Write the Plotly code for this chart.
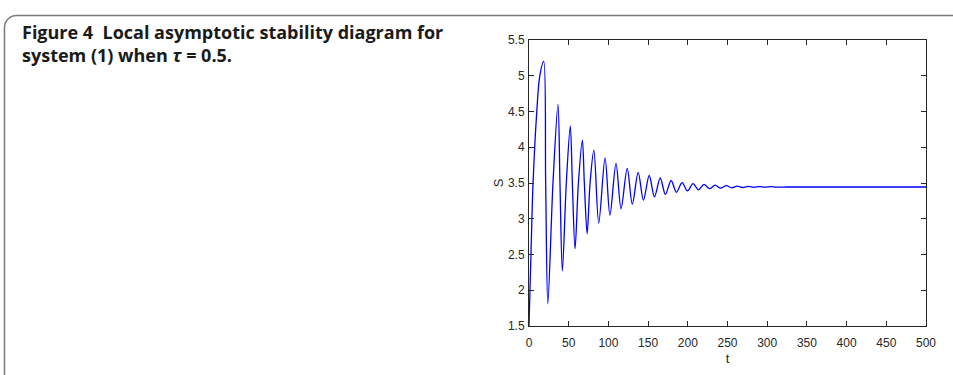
import plotly.graph_objects as go

# ---- data ----
t_values = [0, 2.5, 5.1, 9.7, 13.5, 18.5, 21, 23.7, 30.2, 36.5, 39, 42, 47, 52, 54.6, 58,
            62.2, 67.2, 69.7, 73.2, 76.9, 81.7, 87.8, 95.8, 101.9, 109.6, 115.9, 123.7,
            130.1, 137.5, 144.1, 151.4, 158, 165.3, 171.8, 179, 185.7, 192.8, 199.5, 206.6,
            213.3, 220.4, 227.4, 234.4, 241.3, 248.4, 255.5, 262.3, 269.3, 276.3, 283.3,
            290.3, 297.3, 304.3, 312, 325, 400, 500]
s_values = [1.5, 2.52, 3.5, 4.48, 4.99, 5.20, 3.5, 1.81, 3.5, 4.60, 3.5, 2.27, 3.5, 4.30, 3.5, 2.58,
            3.5, 4.10, 3.5, 2.79, 3.5, 3.96, 2.94, 3.85, 3.05, 3.775, 3.14, 3.705,
            3.205, 3.65, 3.26, 3.605, 3.305, 3.57, 3.34, 3.535, 3.37, 3.505, 3.39, 3.49,
            3.405, 3.48, 3.42, 3.47, 3.428, 3.462, 3.433, 3.457, 3.437, 3.453, 3.44,
            3.45, 3.441, 3.448, 3.443, 3.444, 3.444, 3.444]
x_ticks = [0, 50, 100, 150, 200, 250, 300, 350, 400, 450, 500]
y_ticks = [1.5, 2, 2.5, 3, 3.5, 4, 4.5, 5, 5.5]
y_tick_labels = ["1.5", "2", "2.5", "3", "3.5", "4", "4.5", "5", "5.5"]
caption = "Figure 4  Local asymptotic stability diagram for<br>system (1) when <i>τ</i> = 0.5."

W, H = 953, 375
L, R, T, B = 529, 926, 40, 326


def px(x):
    return (x - L) / (R - L)


def py(y):
    return (B - y) / (B - T)


fig = go.Figure()
fig.add_trace(go.Scatter(x=t_values, y=s_values, mode="lines",
                         line=dict(color="#0000ff", width=1.3, shape="spline", smoothing=0.9),
                         hoverinfo="skip", showlegend=False))

tick_font = dict(family="Liberation Sans, Arial", size=12, color="#262626")
axis_common = dict(showgrid=False, zeroline=False, showline=True, linecolor="#262626",
                   linewidth=1, mirror="ticks", ticks="inside", ticklen=5,
                   tickcolor="#262626", tickfont=tick_font)
fig.update_xaxes(range=[0, 500], tickvals=x_ticks, ticktext=[str(v) for v in x_ticks],
                 ticklabelstandoff=6,
                 title=dict(text="t", font=dict(family="Liberation Sans, Arial", size=13,
                                                color="#262626"), standoff=4),
                 **axis_common)
fig.update_yaxes(range=[1.5, 5.5], tickvals=y_ticks, ticktext=y_tick_labels,
                 ticklabelstandoff=1,
                 title=dict(text="S", font=dict(family="Liberation Sans, Arial", size=13,
                                                color="#262626"), standoff=1),
                 **axis_common)

# caption box border: rounded top-left corner, open at the bottom
border = dict(color="#7a7a7a", width=1.5)
x0, x1, y0, y1, r = 4.5, 990, 15.5, 380, 12
path = (f"M {px(x1)},{py(y0)} L {px(x0 + r)},{py(y0)} "
        f"C {px(x0 + r * 0.45)},{py(y0)} {px(x0)},{py(y0 + r * 0.45)} {px(x0)},{py(y0 + r)} "
        f"L {px(x0)},{py(y1)}")
fig.add_shape(type="path", path=path, xref="paper", yref="paper", line=border,
              layer="above")

fig.add_annotation(text=caption, xref="paper", yref="paper", x=px(20), y=py(18),
                   xanchor="left", yanchor="top", align="left", showarrow=False,
                   font=dict(family="Open Sans", size=18, color="#1a1a1a", weight="bold"))

fig.update_layout(width=W, height=H, margin=dict(l=L, r=W - R, t=T, b=H - B),
                  paper_bgcolor="white", plot_bgcolor="white")
fig.write_html("out.html", config={"displayModeBar": False},
               post_script="document.body.style.margin='0';document.body.style.overflow='hidden';")
